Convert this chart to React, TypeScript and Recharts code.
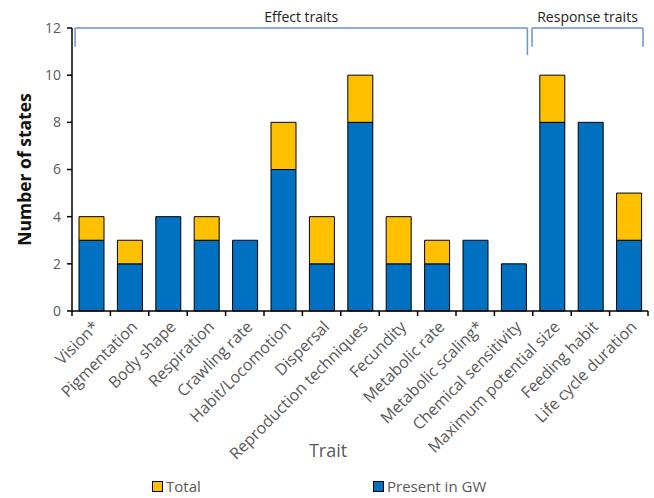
import React from 'react';
import { BarChart, Bar, XAxis, YAxis, ReferenceLine, Legend } from 'recharts';

const traits = [
  'Vision*', 'Pigmentation', 'Body shape', 'Respiration', 'Crawling rate',
  'Habit/Locomotion', 'Dispersal', 'Reproduction techniques', 'Fecundity',
  'Metabolic rate', 'Metabolic scaling*', 'Chemical sensitivity',
  'Maximum potential size', 'Feeding habit', 'Life cycle duration',
];
const totalStates = [4, 3, 4, 4, 3, 8, 4, 10, 4, 3, 3, 2, 10, 8, 5];
const presentInGW = [3, 2, 4, 3, 3, 6, 2, 8, 2, 2, 3, 2, 8, 8, 3];
const yTicks = [0, 2, 4, 6, 8, 10, 12];
const bandTicks = [0, 1, 2, 3, 4, 5, 6, 7, 8, 9, 10, 11, 12, 13, 14, 15];
const groups = [
  { name: 'Effect traits', from: 0.08, to: 11.86, leftDrop: 11.2, rightDrop: 10.85 },
  { name: 'Response traits', from: 11.98, to: 14.87, leftDrop: 11.2, rightDrop: 11.2 },
];

const data = traits.map((t, i) => ({
  trait: t,
  pos: i + 0.5,
  present: presentInGW[i],
  extra: totalStates[i] - presentInGW[i],
}));

const BLUE = '#0070C0';
const YELLOW = '#FFC000';
const GRAY = '#595959';
const BRACKET = '#6A93D4';
const FONT = '"Open Sans", sans-serif';

const RotTick = (props: any) => {
  const { x, y, payload } = props;
  return (
    <g transform={`translate(${x + 6},${y + 5})`}>
      <text x={0} y={0} dy={4} textAnchor="end" transform="rotate(-45)" fill={GRAY} fontSize={16} fontFamily={FONT}>
        {payload.value}
      </text>
    </g>
  );
};

const EmptyTick = () => <g />;

const LegendContent = () => (
  <div style={{ position: 'relative', width: 654, height: 37, fontFamily: FONT, fontSize: 15, color: GRAY }}>
    <div style={{ position: 'absolute', left: 152, top: 17, display: 'flex', alignItems: 'center' }}>
      <span style={{ width: 9, height: 9, background: YELLOW, border: '1px solid #000', display: 'inline-block', marginRight: 3 }} />
      <span>Total</span>
    </div>
    <div style={{ position: 'absolute', left: 373, top: 17, display: 'flex', alignItems: 'center' }}>
      <span style={{ width: 9, height: 9, background: BLUE, border: '1px solid #000', display: 'inline-block', marginRight: 3 }} />
      <span>Present in GW</span>
    </div>
  </div>
);

export default function App() {
  return (
    <div style={{ position: 'absolute', left: 0, top: 0, background: '#fff' }}>
      <BarChart width={654} height={498} data={data} margin={{ top: 28, right: 6, left: 22, bottom: 2 }}>
        <XAxis xAxisId="b" dataKey="trait" interval={0} height={147} axisLine={false} tickLine={false}
          tick={<RotTick />}
          label={{ value: 'Trait', position: 'insideBottom', offset: 2, dx: -32, fill: GRAY, fontSize: 18, fontFamily: FONT }} />
        <XAxis xAxisId="a" dataKey="pos" type="number" domain={[0, 15]} ticks={bandTicks} interval={0} height={1} tick={<EmptyTick />}
          axisLine={{ stroke: '#000', strokeWidth: 1.5 }} tickLine={{ stroke: '#000', strokeWidth: 1.5 }} tickSize={5} />
        <YAxis domain={[0, 12]} ticks={yTicks} width={50} tickSize={5} tickMargin={6}
          axisLine={{ stroke: '#000', strokeWidth: 1.5 }} tickLine={{ stroke: '#000', strokeWidth: 1.5 }}
          tick={{ fill: GRAY, fontSize: 14, fontFamily: FONT }}
          label={{ value: 'Number of states', angle: -90, position: 'insideLeft', offset: 3, fill: '#111', fontSize: 17.5, fontWeight: 'bold', fontFamily: FONT, style: { textAnchor: 'middle' } }} />
        <Legend verticalAlign="bottom" height={37} wrapperStyle={{ left: 0, width: 654 }} content={<LegendContent />} />
        <Bar xAxisId="b" dataKey="present" stackId="s" fill={BLUE} stroke="#000" strokeWidth={1} barSize={25} isAnimationActive={false} name="Present in GW" />
        <Bar xAxisId="b" dataKey="extra" stackId="s" fill={YELLOW} stroke="#000" strokeWidth={1} barSize={25} isAnimationActive={false} name="Total" />
        {groups.map((g) => (
          <ReferenceLine key={g.name + 'h'} xAxisId="a" ifOverflow="visible" stroke={BRACKET} strokeWidth={1.5}
            segment={[{ x: g.from, y: 12 }, { x: g.to, y: 12 }]}
            label={{ value: g.name, position: 'top', offset: 6, fill: '#222', fontSize: 14, fontFamily: FONT }} />
        ))}
        {groups.map((g) => (
          <ReferenceLine key={g.name + 'l'} xAxisId="a" ifOverflow="visible" stroke={BRACKET} strokeWidth={1.5}
            segment={[{ x: g.from, y: 12 }, { x: g.from, y: g.leftDrop }]} />
        ))}
        {groups.map((g) => (
          <ReferenceLine key={g.name + 'r'} xAxisId="a" ifOverflow="visible" stroke={BRACKET} strokeWidth={1.5}
            segment={[{ x: g.to, y: 12 }, { x: g.to, y: g.rightDrop }]} />
        ))}
      </BarChart>
    </div>
  );
}
